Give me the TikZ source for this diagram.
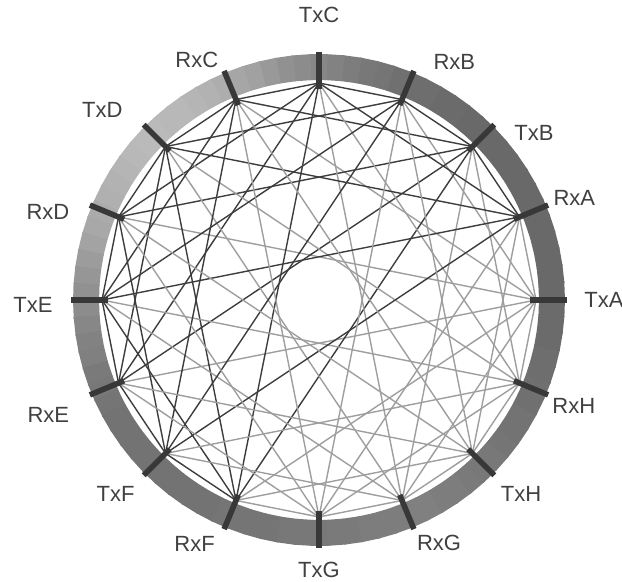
\documentclass[tikz,border=0pt]{standalone}
\usepackage{fontspec}
\setmainfont{Liberation Sans}
\def\portlist{TxA/0/0/285, RxA/22.5/21.8/275, TxB/45/37.8/272, RxB/67.5/60.4/274,
  TxC/90/90/285, RxC/112.5/117/269, TxD/135/138.8/288, RxD/157.5/162/285,
  TxE/180/181/286, RxE/202.5/203/294, TxF/225/223.6/281, RxF/247.5/243/274,
  TxG/270/270/270, RxG/292.5/296.3/271, TxH/315/316.2/280, RxH/337.5/337.4/276}
\begin{document}
\begin{tikzpicture}[
    x=0.5pt, y=0.5pt,
    port/.style={line width=2.8pt, draw=black!78},
    portlbl/.style={font=\fontsize{11}{13}\selectfont, text=black!75, inner sep=0pt},
    fiber/.style={line width=0.7pt},
]
\useasboundingbox (-319,-282) rectangle (303,300);

% ring, lighter at top left
\foreach \a in {0,4,...,356} {
  \pgfmathtruncatemacro\g{50 - 24*max(0,cos(\a+2-140))^3 + 10*max(0,cos(\a+2-25)) + 6*max(0,cos(\a+2-210))}
  \fill[black!\g] (\a:220) -- (\a:246) -- (\a+4.4:246) -- (\a+4.4:220) -- cycle;
}

\foreach \nm/\a/\la/\lr in \portlist {
  \coordinate (\nm) at (\a:217);
}

% every Tx to every Rx
\foreach \t/\ft in {TxA/0, TxB/1, TxC/1, TxD/1, TxE/1, TxF/1, TxG/0, TxH/0} {
  \foreach \r/\fr in {RxA/1, RxB/1, RxC/1, RxD/1, RxE/1, RxF/1, RxG/0, RxH/0} {
    \pgfmathtruncatemacro\shd{38+38*\ft*\fr}
    \draw[fiber, black!\shd] (\t) -- (\r);
  }
}

\foreach \nm/\a/\la/\lr in \portlist {
  \draw[port] (\a:211) -- (\a:248);
  \node[portlbl] (lbl-\nm) at (\la:\lr) {\nm};
}
\end{tikzpicture}
\end{document}
